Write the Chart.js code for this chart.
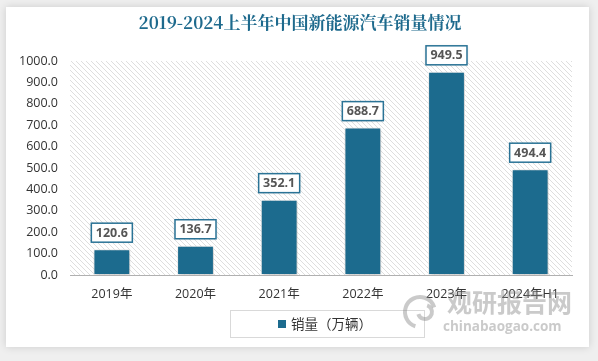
<!DOCTYPE html>
<html>
<head>
<meta charset="utf-8">
<script src="https://cdn.jsdelivr.net/npm/chart.js@4.4.1/dist/chart.umd.min.js"></script>
<style>
html,body{margin:0;padding:0;background:#efefef;}
#wrap{position:relative;width:598px;height:361px;}
canvas{display:block;}
</style>
</head>
<body>
<div id="wrap"><canvas id="c" width="598" height="361"></canvas></div>
<script>
const categories = ["2019年","2020年","2021年","2022年","2023年","2024年H1"];
const salesValues = [120.6,136.7,352.1,688.7,949.5,494.4];
const yTicks = [0,100,200,300,400,500,600,700,800,900,1000];
const seriesName = "销量（万辆）";
const titleText = "2019-2024上半年中国新能源汽车销量情况";

const BAR = "#1c6b8e";

function hatch(){
  const p = document.createElement('canvas');
  p.width = 5; p.height = 5;
  const g = p.getContext('2d');
  g.fillStyle = '#ffffff'; g.fillRect(0,0,5,5);
  g.strokeStyle = '#dedede'; g.lineWidth = 1;
  g.beginPath();
  g.moveTo(0,0); g.lineTo(5,5);
  g.moveTo(-1,4); g.lineTo(1,6);
  g.moveTo(4,-1); g.lineTo(6,1);
  g.stroke();
  return p;
}

const bgPlugin = {
  id:'bg',
  beforeDraw(chart){
    const ctx = chart.ctx;
    ctx.save();
    ctx.fillStyle = '#efefef';
    ctx.fillRect(0,0,chart.width,chart.height);
    ctx.shadowColor = 'rgba(0,0,0,0.15)';
    ctx.shadowBlur = 8;
    ctx.fillStyle = '#ffffff';
    ctx.fillRect(6,7,583,340);
    ctx.restore();
    const a = chart.chartArea;
    ctx.save();
    ctx.fillStyle = ctx.createPattern(hatch(),'repeat');
    ctx.fillRect(a.left, a.top, a.right-a.left, a.bottom-a.top);
    ctx.restore();
    ctx.save();
    ctx.font = 'bold 17px "Noto Serif CJK SC","Noto Sans CJK SC",serif';
    ctx.fillStyle = '#1e6a8d';
    ctx.textAlign = 'center';
    ctx.textBaseline = 'middle';
    ctx.fillText(titleText, 300, 23);
    ctx.restore();
  },
  beforeDatasetsDraw(chart){
    chart.ctx.save();
    chart.ctx.shadowColor = 'rgba(0,0,0,0.25)';
    chart.ctx.shadowBlur = 4;
    chart.ctx.shadowOffsetX = 1;
    chart.ctx.shadowOffsetY = 1;
  },
  afterDatasetsDraw(chart){
    chart.ctx.restore();
    const ctx = chart.ctx;
    const meta = chart.getDatasetMeta(0);
    ctx.save();
    ctx.font = 'bold 12.5px "Open Sans",sans-serif';
    meta.data.forEach((bar,i)=>{
      const txt = salesValues[i].toFixed(1);
      const w = 41, h = 19;
      const x = bar.x - w/2;
      const y = bar.y - 7 - h;
      ctx.shadowColor = 'rgba(0,0,0,0.2)';
      ctx.shadowBlur = 3;
      ctx.fillStyle = '#ffffff';
      ctx.fillRect(x,y,w,h);
      ctx.shadowColor = 'transparent';
      ctx.strokeStyle = '#2a7396';
      ctx.lineWidth = 1.5;
      ctx.strokeRect(x,y,w,h);
      ctx.fillStyle = '#555555';
      ctx.textAlign = 'center';
      ctx.textBaseline = 'middle';
      ctx.fillText(txt, bar.x, y + h/2 + 0.5);
    });
    ctx.restore();
  },
  afterDraw(chart){
    const ctx = chart.ctx;
    ctx.save();
    ctx.strokeStyle = '#d9d9d9';
    ctx.lineWidth = 1;
    ctx.fillStyle = '#ffffff';
    ctx.fillRect(230, 310, 194, 27);
    ctx.strokeRect(230.5, 310.5, 194, 27);
    ctx.fillStyle = BAR;
    ctx.fillRect(278, 320, 8, 8);
    ctx.fillStyle = '#333333';
    ctx.font = '13.5px "Noto Sans CJK SC",sans-serif';
    ctx.textBaseline = 'middle';
    ctx.fillText(seriesName, 291, 324);
    ctx.restore();
    ctx.save();
    ctx.globalAlpha = 0.45;
    ctx.fillStyle = '#8a8a8a';
    ctx.font = 'bold 25px "Noto Sans CJK SC",sans-serif';
    ctx.textBaseline = 'middle';
    ctx.fillText('观研报告网', 447, 302);
    ctx.font = 'bold 13.5px "Open Sans",sans-serif';
    ctx.fillText('chinabaogao.com', 443, 327);
    ctx.lineWidth = 4;
    ctx.strokeStyle = '#8a8a8a';
    ctx.beginPath();
    ctx.arc(420, 312, 15, Math.PI*0.6, Math.PI*1.9);
    ctx.stroke();
    ctx.beginPath();
    ctx.arc(425, 312, 7, Math.PI*1.6, Math.PI*0.9);
    ctx.stroke();
    ctx.restore();
  }
};

new Chart(document.getElementById('c'), {
  type:'bar',
  data:{
    labels:categories,
    datasets:[{
      label:seriesName,
      data:salesValues,
      backgroundColor:BAR,
      borderColor:'rgba(255,255,255,0.7)',
      borderWidth:1,
      borderSkipped:false,
      categoryPercentage:1,
      barPercentage:0.44
    }]
  },
  options:{
    responsive:false,
    animation:false,
    devicePixelRatio:1,
    layout:{padding:{top:61,left:6,right:26,bottom:51}},
    plugins:{
      legend:{display:false},
      tooltip:{enabled:false},
      title:{display:false}
    },
    scales:{
      x:{
        grid:{display:false, drawTicks:false},
        border:{display:true, color:'#b0b0b0', width:1},
        ticks:{color:'#333333', padding:12, font:{size:12.5, family:'"Open Sans","Noto Sans CJK SC",sans-serif'}, maxRotation:0},
        afterFit(s){ s.height = 35; }
      },
      y:{
        min:0, max:1000,
        afterBuildTicks(s){ s.ticks = yTicks.map(v=>({value:v})); },
        grid:{display:false, drawTicks:false},
        border:{display:false},
        ticks:{color:'#333333', padding:12, font:{size:12.5, family:'"Open Sans",sans-serif'}, callback:v=>Number(v).toFixed(1)},
        afterFit(s){ s.width = 64; }
      }
    }
  },
  plugins:[bgPlugin]
});
</script>
</body>
</html>
